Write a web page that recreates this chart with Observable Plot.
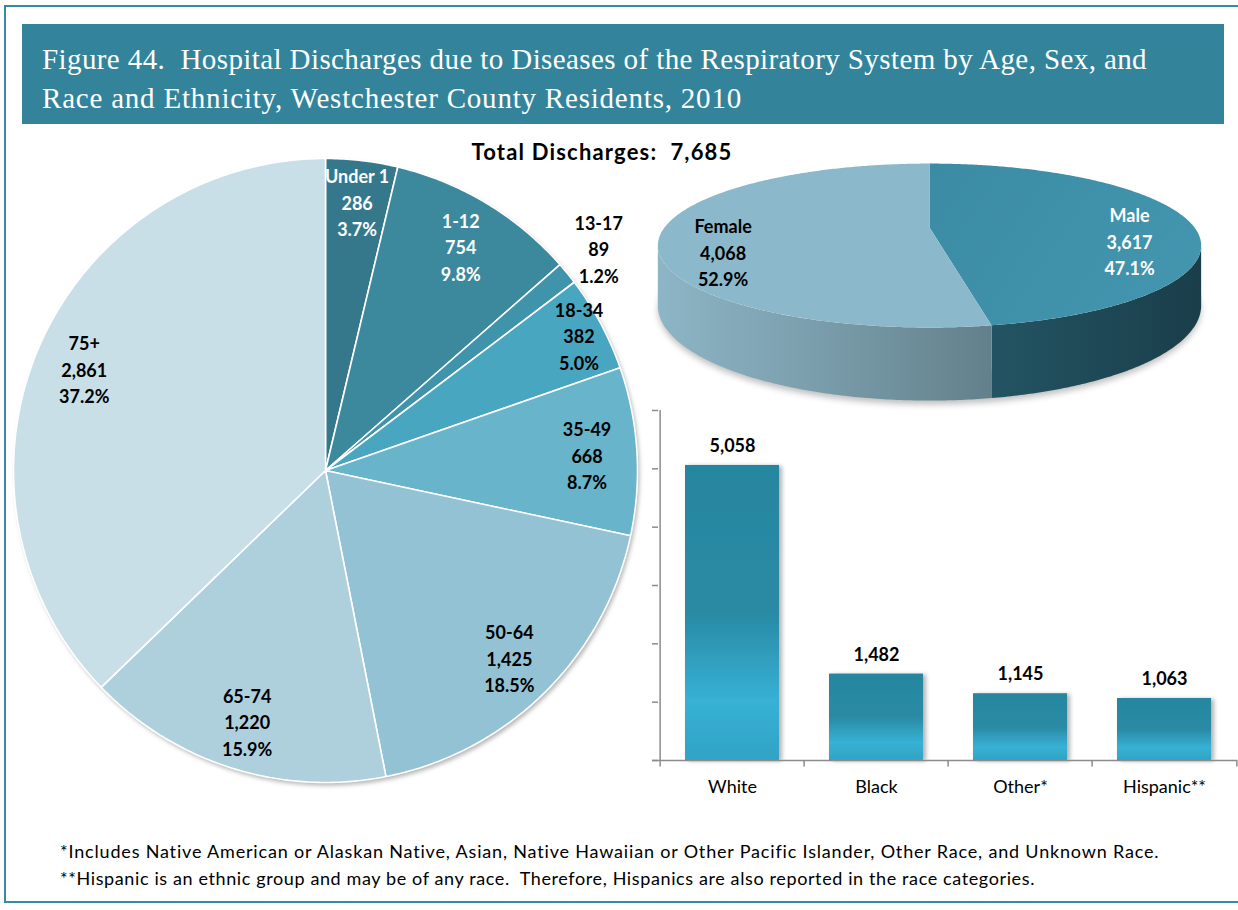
<!DOCTYPE html>
<html>
<head>
<meta charset="utf-8">
<script src="https://cdn.jsdelivr.net/npm/d3@7"></script>
<script src="https://cdn.jsdelivr.net/npm/@observablehq/plot@0.6"></script>
<style>
  html, body { margin: 0; padding: 0; background: #fff; }
  #fig { position: relative; width: 1238px; height: 910px; overflow: hidden; font-family: Lato, "Open Sans", sans-serif; color: #000; }
  .frame { position: absolute; left: 4px; top: 5px; width: 1240px; height: 898px; border: 2px solid #3a89a2; box-sizing: border-box; }
  .banner { position: absolute; left: 22px; top: 24px; width: 1202px; height: 100px; background: #33849b; box-sizing: border-box;
            padding: 16px 0 0 20px; color: #fff; font-family: "Liberation Serif", "DejaVu Serif", serif; font-size: 29px; line-height: 39px; white-space: nowrap; }
  .banner span { display: inline-block; }
  .total { position: absolute; left: 402px; top: 138px; width: 400px; text-align: center; font-weight: 700; font-size: 22px; white-space: pre; }
  .total span { display: inline-block; }
  .notes { position: absolute; left: 60px; top: 838px; font-size: 18px; line-height: 27px; white-space: pre; }
  .notes span { display: inline-block; }
  .chart { position: absolute; }
  .chart svg { overflow: visible; }
</style>
</head>
<body>
<div id="fig">
  <div class="frame"></div>
  <div class="banner" id="banner"></div>
  <div class="total" id="total"></div>
  <div class="chart" id="agePie" style="left:0px;top:140px;"></div>
  <div class="chart" id="sexPie" style="left:640px;top:140px;"></div>
  <div class="chart" id="raceBars" style="left:620px;top:395px;"></div>
  <div class="notes" id="notes"></div>
</div>
<script>
// ---- Data ----
const totalDischarges = 7685;

const ageGroups = ["Under 1", "1-12", "13-17", "18-34", "35-49", "50-64", "65-74", "75+"];
const ageDischarges = [286, 754, 89, 382, 668, 1425, 1220, 2861];
const agePercents = [3.7, 9.8, 1.2, 5.0, 8.7, 18.5, 15.9, 37.2];
const ageColors = ["#36788b", "#3c889d", "#3f93aa", "#49a6c0", "#67b4cb", "#93c2d4", "#aed0dd", "#c8dfe7"];

const sexGroups = ["Male", "Female"];
const sexDischarges = [3617, 4068];
const sexPercents = [47.1, 52.9];

const raceGroups = ["White", "Black", "Other*", "Hispanic**"];
const raceDischarges = [5058, 1482, 1145, 1063];
const raceTicks = [0, 1000, 2000, 3000, 4000, 5000, 6000];

const titleLines = [
  "Figure 44.\u00a0 Hospital Discharges due to Diseases of the Respiratory System by Age, Sex, and",
  "Race and Ethnicity, Westchester County Residents, 2010"
];
const footnotes = [
  "*Includes Native American or Alaskan Native, Asian, Native Hawaiian or Other Pacific Islander, Other Race, and Unknown Race.",
  "**Hispanic is an ethnic group and may be of any race.  Therefore, Hispanics are also reported in the race categories."
];

const fmt = d3.format(",");
const pct = d3.format(".1f");

// Text blocks: each line is a span stretched with letter-spacing to its set width.
function fillLines(el, lines, widths) {
  lines.forEach((line, i) => {
    const span = document.createElement("span");
    span.textContent = line;
    el.appendChild(span);
    if (i < lines.length - 1) el.appendChild(document.createElement("br"));
    const w = span.getBoundingClientRect().width;
    if (widths[i]) span.style.letterSpacing = ((widths[i] - w) / line.length) + "px";
  });
}
fillLines(document.getElementById("banner"), titleLines, [1105, 700]);
fillLines(document.getElementById("total"), [`Total Discharges:  ${fmt(totalDischarges)}`], [261]);
fillLines(document.getElementById("notes"), footnotes, [1100, 975]);

function addDefs(svg, html) {
  const ns = "http://www.w3.org/2000/svg";
  const defs = document.createElementNS(ns, "defs");
  defs.innerHTML = html;
  svg.insertBefore(defs, svg.firstChild);
}
function setFilter(svg, selector, index, filter) {
  const g = svg.querySelectorAll(selector)[index];
  if (g) g.setAttribute("filter", filter);
}

// ---- Age pie ----
{
  const R = 312;
  const W = 660, H = 672;
  const ageData = ageGroups.map((g, i) => ({group: g, value: ageDischarges[i], pct: agePercents[i], color: ageColors[i]}));
  const arcs = d3.pie().sort(null).value(d => d.value)(ageData);

  const slicePts = [];
  for (const a of arcs) {
    const key = a.data.group;
    slicePts.push({x: 0, y: 0, k: key});
    const n = Math.max(2, Math.ceil((a.endAngle - a.startAngle) / 0.01));
    for (let i = 0; i <= n; i++) {
      const t = a.startAngle + (a.endAngle - a.startAngle) * i / n;
      slicePts.push({x: R * Math.sin(t), y: R * Math.cos(t), k: key});
    }
    slicePts.push({x: 0, y: 0, k: key});
  }
  const rim = d3.range(0, 361).map(d => ({x: R * Math.sin(d * Math.PI / 180), y: R * Math.cos(d * Math.PI / 180)}));

  // Labels sit inside the slice near the rim; very thin slices get theirs just outside.
  const labels = arcs.map(a => {
    const share = a.data.value / totalDischarges;
    const m = (a.startAngle + a.endAngle) / 2;
    const k = share < 0.02 ? 1.13 : share < 0.06 ? 0.86 + 0.07 * Math.abs(Math.sin(m)) : 0.84;
    const inside = share >= 0.02;
    const dark = d3.hsl(a.data.color).l < 0.45;
    return {
      x: k * R * Math.sin(m), y: k * R * Math.cos(m),
      text: `${a.data.group}\n${fmt(a.data.value)}\n${pct(a.data.pct)}%`,
      fill: inside && dark ? "#fff" : "#000"
    };
  });

  const svg = Plot.plot({
    width: W, height: H,
    margin: 0,
    style: {background: "transparent"},
    x: {domain: [-325, W - 325], axis: null},
    y: {domain: [-(H - 330), 330], axis: null},
    color: {domain: ageGroups, range: ageColors},
    marks: [
      Plot.line(rim, {x: "x", y: "y", fill: "#7a7a7a", fillOpacity: 0.55, stroke: "none", dx: 2, dy: 3}),
      Plot.line(slicePts, {x: "x", y: "y", z: "k", fill: "k", stroke: "#fff", strokeWidth: 1.6, strokeLinejoin: "round"}),
      Plot.text(labels, {x: "x", y: "y", text: "text", fill: "fill", fontSize: 18, fontWeight: "bold", lineHeight: 1.47, fontFamily: "Lato"})
    ]
  });
  addDefs(svg, `<filter id="pieBlur" x="-10%" y="-10%" width="120%" height="120%"><feGaussianBlur stdDeviation="2.2"/></filter>`);
  setFilter(svg, 'g[aria-label="line"]', 0, "url(#pieBlur)");
  document.getElementById("agePie").appendChild(svg);
}

// ---- Sex pie (tilted 3-D disc) ----
{
  const W = 598, H = 280;
  const P = {cx: 289, cy: 87, a: 265, b: 78, p: 0.22, h: 57};
  const proj = (t, r = 1, drop = 0) => {
    const u = r * Math.sin(t), v = r * Math.cos(t);
    const s = 1 / (1 + P.p * v);
    return {x: P.cx + P.a * u * s, y: P.cy - P.b * v * s + drop * s};
  };
  const sexData = sexGroups.map((g, i) => ({group: g, value: sexDischarges[i], pct: sexPercents[i]}));
  const arcs = d3.pie().sort(null).value(d => d.value)(sexData);
  const sideFrom = Math.acos(-P.p), sideTo = 2 * Math.PI - Math.acos(-P.p);

  const topPts = [], sidePts = [];
  for (const a of arcs) {
    const key = a.data.group;
    topPts.push({...proj(0, 0), k: key});
    const n = Math.ceil((a.endAngle - a.startAngle) / 0.01);
    for (let i = 0; i <= n; i++) topPts.push({...proj(a.startAngle + (a.endAngle - a.startAngle) * i / n), k: key});
    topPts.push({...proj(0, 0), k: key});

    const s0 = Math.max(a.startAngle, sideFrom), s1 = Math.min(a.endAngle, sideTo);
    if (s1 > s0) {
      const m = Math.ceil((s1 - s0) / 0.01);
      const ts = d3.range(m + 1).map(i => s0 + (s1 - s0) * i / m);
      for (const t of ts) sidePts.push({...proj(t), k: key});
      for (const t of ts.slice().reverse()) sidePts.push({...proj(t, 1, P.h), k: key});
    }
  }
  const shadow = [];
  {
    const m = 200;
    for (let i = 0; i <= m; i++) shadow.push(proj(sideFrom + (sideTo - sideFrom) * i / m, 1, P.h + 3));
    for (let i = m; i >= 0; i--) shadow.push(proj(sideFrom + (sideTo - sideFrom) * i / m, 0.98, P.h - 20));
  }

  const labels = arcs.map(a => {
    const m = (a.startAngle + a.endAngle) / 2;
    const p = proj(m, 0.77);
    return {x: p.x, y: p.y + 18, text: `${a.data.group}\n${fmt(a.data.value)}\n${pct(a.data.pct)}%`, fill: a.data.group === "Male" ? "#fff" : "#000"};
  });

  const svg = Plot.plot({
    width: W, height: H, margin: 0,
    style: {background: "transparent"},
    x: {domain: [0, W], range: [0, W], axis: null},
    y: {domain: [0, H], range: [0, H], axis: null},
    marks: [
      Plot.line(shadow, {x: "x", y: "y", fill: "#000", fillOpacity: 0.25, stroke: "none"}),
      Plot.line(sidePts, {x: "x", y: "y", z: "k", fill: d => d.k === "Male" ? "url(#sideMale)" : "url(#sideFemale)", stroke: "none"}),
      Plot.line(topPts, {x: "x", y: "y", z: "k", fill: d => d.k === "Male" ? "url(#topMale)" : "#8bb9cb", stroke: "none"}),
      Plot.text(labels, {x: "x", y: "y", text: "text", fill: "fill", fontSize: 18, fontWeight: "bold", lineHeight: 1.47, fontFamily: "Lato"})
    ]
  });
  addDefs(svg, `
    <filter id="discBlur" x="-20%" y="-50%" width="140%" height="200%"><feGaussianBlur stdDeviation="3"/></filter>
    <linearGradient id="sideFemale" gradientUnits="userSpaceOnUse" x1="15" y1="0" x2="352" y2="0">
      <stop offset="0" stop-color="#8db6c6"/><stop offset="0.45" stop-color="#7c9fad"/><stop offset="1" stop-color="#62808b"/>
    </linearGradient>
    <linearGradient id="sideMale" gradientUnits="userSpaceOnUse" x1="352" y1="0" x2="565" y2="0">
      <stop offset="0" stop-color="#235463"/><stop offset="1" stop-color="#1a3d49"/>
    </linearGradient>
    <linearGradient id="topMale" gradientUnits="userSpaceOnUse" x1="290" y1="20" x2="560" y2="200">
      <stop offset="0" stop-color="#3a8ba3"/><stop offset="1" stop-color="#4596b0"/>
    </linearGradient>`);
  setFilter(svg, 'g[aria-label="line"]', 0, "url(#discBlur)");
  document.getElementById("sexPie").appendChild(svg);
}

// ---- Race bars ----
{
  const W = 618, H = 420, mL = 38, mR = 1;
  const step = (W - mL - mR) / raceGroups.length;
  const raceData = raceGroups.map((g, i) => ({race: g, value: raceDischarges[i]}));
  const last = raceGroups[raceGroups.length - 1];
  const svg = Plot.plot({
    width: W, height: H,
    marginLeft: mL, marginRight: mR, marginTop: 15, marginBottom: 55,
    style: {fontFamily: "Lato", color: "#000", background: "transparent"},
    x: {domain: raceGroups, paddingInner: 0.35, paddingOuter: 0.175, label: null},
    y: {domain: [0, 6000], label: null},
    marks: [
      Plot.barY(raceData, {x: "race", y: "value", fill: "url(#barGrad)"}),
      Plot.text(raceData, {x: "race", y: "value", text: d => fmt(d.value), dy: -19, fontSize: 18, fontWeight: "bold"}),
      Plot.ruleY([0], {stroke: "#8c8c8c", strokeWidth: 1.5, insetLeft: -6}),
      Plot.ruleX([raceGroups[0]], {y1: 0, y2: 6000, dx: -step / 2, stroke: "#8c8c8c", strokeWidth: 1.5}),
      Plot.ruleX(raceGroups, {y1: 0, y2: -110, dx: -step / 2, stroke: "#8c8c8c", strokeWidth: 1.5}),
      Plot.ruleX([last], {y1: 0, y2: -110, dx: step / 2, stroke: "#8c8c8c", strokeWidth: 1.5}),
      Plot.axisY({ticks: raceTicks, tickFormat: () => "", tickSize: 6, stroke: "#8c8c8c", strokeWidth: 1.5}),
      Plot.axisX({tickSize: 0, tickPadding: 20, fontSize: 18, label: null})
    ]
  });
  addDefs(svg, `
    <linearGradient id="barGrad" x1="0" y1="0" x2="0" y2="1">
      <stop offset="0" stop-color="#2886a0"/><stop offset="0.5" stop-color="#298aa4"/>
      <stop offset="0.8" stop-color="#37b1d5"/><stop offset="1" stop-color="#31a3c5"/>
    </linearGradient>
    <filter id="barShadow" x="-10%" y="-10%" width="130%" height="120%">
      <feDropShadow dx="3" dy="1" stdDeviation="2" flood-color="#000" flood-opacity="0.3"/>
    </filter>`);
  setFilter(svg, 'g[aria-label="bar"]', 0, "url(#barShadow)");
  document.getElementById("raceBars").appendChild(svg);
}
</script>
</body>
</html>
